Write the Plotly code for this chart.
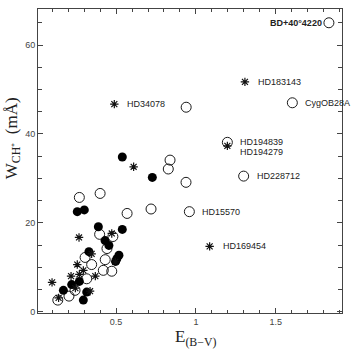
import plotly.graph_objects as go

# ---- data (E(B-V), W_CH+ in mÅ) ----
filled_x = [0.539, 0.727, 0.257, 0.301, 0.389, 0.539, 0.431, 0.455, 0.330, 0.518, 0.505, 0.497, 0.270, 0.222, 0.170, 0.316, 0.295]
filled_y = [34.8, 30.2, 22.5, 22.9, 19.1, 18.5, 16.0, 14.9, 13.5, 12.7, 11.9, 11.3, 6.8, 6.1, 4.8, 4.4, 2.6]

open_x = [1.833, 0.939, 1.604, 1.197, 1.299, 0.959, 0.838, 0.827, 0.938, 0.270, 0.400, 0.569, 0.719,
          0.397, 0.480, 0.443, 0.306, 0.432, 0.347, 0.420, 0.473, 0.316, 0.243, 0.205, 0.135]
open_y = [65.0, 46.0, 47.0, 38.1, 30.5, 22.5, 34.1, 32.1, 29.1, 25.7, 26.6, 22.1, 23.1,
          17.4, 16.9, 14.2, 12.2, 11.7, 10.6, 9.3, 9.1, 7.4, 4.8, 3.5, 2.6]

star_x = [0.489, 1.307, 1.197, 1.086, 0.610, 0.473, 0.268, 0.347, 0.495, 0.257, 0.295, 0.270,
          0.218, 0.370, 0.099, 0.337, 0.245, 0.140]
star_y = [46.7, 51.7, 37.3, 14.7, 32.6, 17.6, 16.7, 13.0, 11.2, 10.6, 9.3, 8.4,
          8.0, 8.0, 6.6, 4.6, 5.3, 3.1]

label_names = ["BD+40°4220", "HD183143", "HD34078", "CygOB28A", "HD194839", "HD194279",
               "HD228712", "HD15570", "HD169454"]
label_x = [1.833, 1.307, 0.489, 1.604, 1.197, 1.197, 1.299, 0.959, 1.086]
label_y = [65.0, 51.7, 46.7, 47.0, 38.1, 37.3, 30.5, 22.5, 14.7]

x_ticks = [0.5, 1, 1.5]
x_ticktext = ["0.5", "1", "1.5"]
y_ticks = [0, 20, 40, 60]

fig = go.Figure()
fig.add_trace(go.Scatter(x=open_x, y=open_y, mode="markers",
                         marker=dict(symbol="circle-open", size=10, color="#1a1a1a",
                                     line=dict(width=1, color="#1a1a1a")),
                         hoverinfo="skip"))
fig.add_trace(go.Scatter(x=filled_x, y=filled_y, mode="markers",
                         marker=dict(symbol="circle", size=9, color="black"),
                         hoverinfo="skip"))
fig.add_trace(go.Scatter(x=star_x, y=star_y, mode="markers",
                         marker=dict(symbol="asterisk-open", size=7, color="#111",
                                     line=dict(width=1.2, color="#111")),
                         hoverinfo="skip"))

shift = {"BD+40°4220": (-5, 0, "right"), "HD194279": (11, -6, "left")}
for name, lx, ly in zip(label_names, label_x, label_y):
    xs, ys, anc = shift.get(name, (11, 0, "left"))
    txt = "<b>" + name + "</b>" if name == "BD+40°4220" else name
    fig.add_annotation(x=lx, y=ly, xref="x", yref="y", text=txt, showarrow=False,
                       xanchor=anc, yanchor="middle", xshift=xs, yshift=ys,
                       font=dict(family="Liberation Sans, Arial", size=9, color="#222"))

axis_common = dict(showgrid=False, zeroline=False, showline=True, linecolor="#444",
                   linewidth=1, mirror="ticks", ticks="inside", ticklen=5,
                   tickcolor="#444", tickwidth=1,
                   tickfont=dict(family="Liberation Sans, Arial", size=9, color="#444"))

fig.update_xaxes(range=[0.011, 1.915], tickvals=x_ticks, ticktext=x_ticktext,
                 minor=dict(dtick=0.1, tick0=0, ticks="inside", ticklen=3, tickcolor="#444"),
                 **axis_common)
fig.update_yaxes(range=[-0.3, 68.1], tickvals=y_ticks,
                 minor=dict(dtick=5, tick0=0, ticks="inside", ticklen=4, tickcolor="#444"),
                 **axis_common)

fig.add_annotation(text="E<sub>(B−V)</sub>", xref="paper", yref="paper", x=0.52, y=-0.082,
                   xanchor="center", yanchor="middle", showarrow=False,
                   font=dict(family="Liberation Serif, Times New Roman", size=17, color="#222"))
fig.add_annotation(text="W<sub>CH⁺</sub>  (mÅ)", xref="paper", yref="paper", x=-0.082, y=0.575,
                   xanchor="center", yanchor="middle", showarrow=False, textangle=-90,
                   font=dict(family="Liberation Serif, Times New Roman", size=17, color="#222"))

fig.update_layout(width=352, height=350, margin=dict(l=38, r=10, t=9, b=37),
                  paper_bgcolor="white", plot_bgcolor="white", showlegend=False)

fig.write_html("out.html")
